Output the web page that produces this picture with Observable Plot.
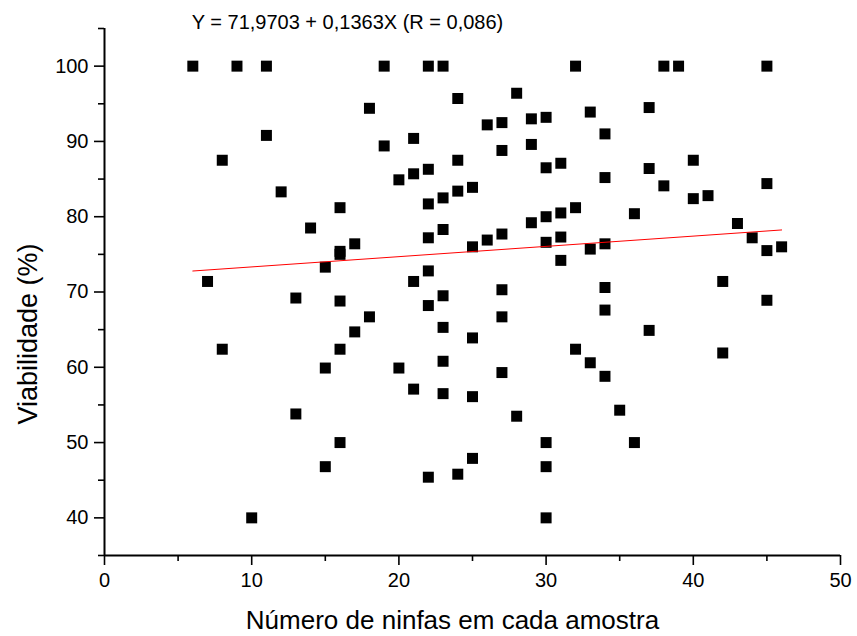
<!DOCTYPE html>
<html>
<head>
<meta charset="utf-8">
<script src="https://cdn.jsdelivr.net/npm/d3@7"></script>
<script src="https://cdn.jsdelivr.net/npm/@observablehq/plot@0.6"></script>
<style>
  html, body { margin: 0; padding: 0; background: #fff; }
  #chart svg { display: block; }
</style>
</head>
<body>
<div id="chart"></div>
<script>
// Número de ninfas em cada amostra (x) and Viabilidade (%) (y)
const ninfas = [
  6, 7, 8, 8, 9, 10, 11, 11, 12, 13, 13, 14,
  15, 15, 15, 16, 16, 16, 16, 16, 16, 17, 17, 18, 18, 19, 19, 20, 20,
  21, 21, 21, 21, 22, 22, 22, 22, 22, 22, 22,
  23, 23, 23, 23, 23, 23, 23, 24, 24, 24, 24,
  25, 25, 25, 25, 25, 26, 26, 27, 27, 27, 27, 27, 27, 28, 28,
  29, 29, 29, 30, 30, 30, 30, 30, 30, 30, 31, 31, 31, 31,
  32, 32, 32, 33, 33, 33, 34, 34, 34, 34, 34, 34, 35, 36, 36,
  37, 37, 37, 38, 38, 39, 40, 40, 41, 42, 42, 43, 44,
  45, 45, 45, 45, 46
];
const viabilidade = [
  100, 71.4, 87.5, 62.4, 100, 40.0, 100, 90.8, 83.3, 69.2, 53.8, 78.5,
  73.3, 59.9, 46.8, 81.2, 75.0, 68.8, 62.4, 50.0, 75.4, 76.4, 64.7, 94.4, 66.7, 100, 89.4, 84.9, 59.9,
  90.4, 85.7, 71.4, 57.1, 100, 86.3, 81.7, 77.2, 72.8, 68.2, 45.4,
  100, 82.5, 78.3, 69.5, 65.3, 60.8, 56.5, 95.7, 87.5, 83.4, 45.8,
  83.9, 76.0, 63.9, 56.1, 47.9, 92.2, 76.9, 92.5, 88.8, 77.7, 70.3, 66.7, 59.3, 96.4, 53.5,
  93.0, 89.6, 79.2, 93.2, 86.5, 80.0, 76.6, 50.0, 46.8, 40.0, 87.1, 80.5, 77.3, 74.2,
  100, 81.2, 62.4, 93.9, 75.7, 60.6, 91.0, 85.2, 76.4, 70.6, 67.6, 58.8, 54.3, 80.4, 50.0,
  94.5, 86.4, 64.9, 100, 84.1, 100, 87.5, 82.4, 82.8, 71.4, 61.9, 79.1, 77.2,
  100, 84.4, 75.5, 68.9, 76.0
];

// Regression from the chart's own equation
const intercept = 71.9703;
const slope = 0.1363;
const fitRange = [6, 46];
const equationText = "Y = 71,9703 + 0,1363X (R = 0,086)";

// Axes
const xDomain = [0, 50];
const yDomain = [35, 105];
const xMajorTicks = [0, 10, 20, 30, 40, 50];
const xMinorTicks = [5, 15, 25, 35, 45];
const yMajorTicks = [40, 50, 60, 70, 80, 90, 100];
const yMinorTicks = [35, 45, 55, 65, 75, 85, 95, 105];
const xLabel = "Número de ninfas em cada amostra";
const yLabel = "Viabilidade (%)";

const points = ninfas.map((x, i) => ({x, y: viabilidade[i]}));
const fit = fitRange.map(x => ({x, y: intercept + slope * x}));

const font = "'Liberation Sans', Arial, Helvetica, sans-serif";

const chart = Plot.plot({
  width: 857,
  height: 636,
  marginLeft: 104,
  marginRight: 17,
  marginTop: 28,
  marginBottom: 81,
  style: {fontFamily: font, fontSize: "20px", color: "#000", background: "#fff", overflow: "visible"},
  x: {domain: xDomain, label: null},
  y: {domain: yDomain, label: null},
  marks: [
    Plot.axisY(yMajorTicks, {tickSize: 10, tickPadding: 6, strokeWidth: 1.6, fontSize: 20, label: null}),
    Plot.axisY(yMinorTicks, {tickSize: 6, strokeWidth: 1.6, tickFormat: () => "", label: null}),
    Plot.axisX(xMajorTicks, {tickSize: 10, tickPadding: 7, strokeWidth: 1.6, fontSize: 20, label: null}),
    Plot.axisX(xMinorTicks, {tickSize: 6, strokeWidth: 1.6, tickFormat: () => "", label: null}),
    Plot.ruleX([xDomain[0]], {y1: yDomain[0], y2: yDomain[1], strokeWidth: 2}),
    Plot.ruleY([yDomain[0]], {x1: xDomain[0], x2: xDomain[1], strokeWidth: 2}),
    Plot.dot(points, {x: "x", y: "y", symbol: "square", r: 6.2, fill: "#000", stroke: "none"}),
    Plot.line(fit, {x: "x", y: "y", stroke: "#ff0000", strokeWidth: 1}),
    Plot.text([equationText], {frameAnchor: "top", textAnchor: "middle", lineAnchor: "middle", dx: -125, dy: -6.4, fontSize: 20, letterSpacing: "-0.3px", fill: "#000"}),
    Plot.text([xLabel], {frameAnchor: "bottom", textAnchor: "middle", lineAnchor: "middle", dx: -20, dy: 64.7, fontSize: 26, letterSpacing: "-0.3px", fill: "#000"}),
    Plot.text([yLabel], {frameAnchor: "left", textAnchor: "middle", lineAnchor: "middle", rotate: -90, dx: -76.6, dy: 42, fontSize: 27, letterSpacing: "-0.3px", fill: "#000"})
  ]
});

document.getElementById("chart").appendChild(chart);
</script>
</body>
</html>
